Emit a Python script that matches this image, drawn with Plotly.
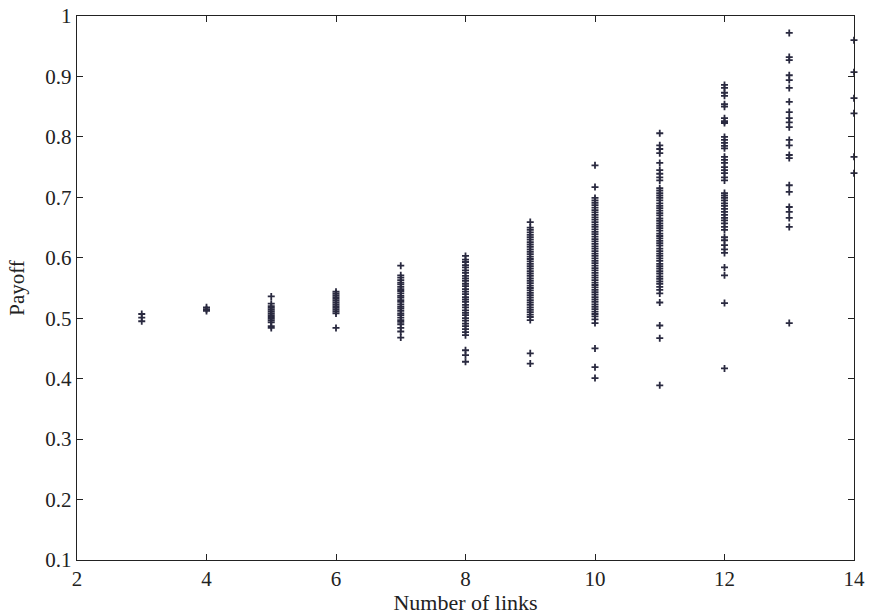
import plotly.graph_objects as go

links = [3, 4, 5, 6, 7, 8, 9, 10, 11, 12, 13, 14]

payoff_3 = [0.507, 0.501, 0.495]
payoff_4 = [0.518, 0.515, 0.512]
payoff_5 = [0.536, 0.524, 0.520, 0.517, 0.514, 0.511, 0.508, 0.505, 0.502,
            0.499, 0.496, 0.493, 0.487, 0.484]
payoff_6 = [0.544, 0.541, 0.538, 0.535, 0.532, 0.529, 0.526, 0.523, 0.520,
            0.517, 0.514, 0.511, 0.508, 0.484]
payoff_7 = [0.587, 0.571, 0.567, 0.563, 0.559, 0.556, 0.552, 0.548, 0.545,
            0.541, 0.537, 0.534, 0.530, 0.527, 0.523, 0.519, 0.516, 0.512,
            0.508, 0.505, 0.501, 0.497, 0.494, 0.490, 0.484, 0.478, 0.468]
payoff_8 = [0.603, 0.597, 0.593, 0.588, 0.584, 0.579, 0.575, 0.570, 0.566,
            0.562, 0.557, 0.553, 0.548, 0.544, 0.540, 0.535, 0.531, 0.527,
            0.522, 0.518, 0.513, 0.509, 0.505, 0.500, 0.496, 0.491, 0.487,
            0.482, 0.477, 0.472, 0.447, 0.439, 0.428]
payoff_9 = [0.659, 0.650, 0.646, 0.642, 0.638, 0.634, 0.630, 0.626, 0.622,
            0.618, 0.614, 0.610, 0.606, 0.602, 0.598, 0.594, 0.590, 0.586,
            0.582, 0.578, 0.574, 0.570, 0.566, 0.562, 0.558, 0.554, 0.550,
            0.546, 0.542, 0.538, 0.534, 0.530, 0.526, 0.522, 0.518, 0.514,
            0.510, 0.506, 0.502, 0.497, 0.442, 0.425]
payoff_10 = [0.753, 0.717, 0.699, 0.695, 0.691, 0.687, 0.683, 0.679, 0.675,
             0.671, 0.667, 0.663, 0.659, 0.655, 0.651, 0.647, 0.643, 0.639,
             0.635, 0.631, 0.627, 0.623, 0.619, 0.615, 0.611, 0.607, 0.603,
             0.599, 0.595, 0.591, 0.587, 0.583, 0.579, 0.575, 0.571, 0.567,
             0.563, 0.559, 0.555, 0.551, 0.547, 0.543, 0.539, 0.535, 0.531,
             0.527, 0.523, 0.519, 0.515, 0.511, 0.507, 0.503, 0.498, 0.492,
             0.450, 0.419, 0.401]
payoff_11 = [0.806, 0.786, 0.780, 0.773, 0.757, 0.745, 0.739, 0.733, 0.728,
             0.715, 0.711, 0.707, 0.703, 0.699, 0.695, 0.690, 0.686, 0.682,
             0.678, 0.674, 0.670, 0.665, 0.661, 0.657, 0.653, 0.649, 0.645,
             0.640, 0.636, 0.632, 0.628, 0.624, 0.620, 0.615, 0.611, 0.607,
             0.603, 0.599, 0.595, 0.590, 0.586, 0.582, 0.578, 0.574, 0.569,
             0.565, 0.561, 0.557, 0.552, 0.547, 0.541, 0.526, 0.488, 0.467,
             0.389]
payoff_12 = [0.886, 0.881, 0.873, 0.868, 0.854, 0.850, 0.831, 0.826, 0.823,
             0.800, 0.795, 0.790, 0.785, 0.781, 0.767, 0.762, 0.757, 0.750,
             0.745, 0.740, 0.733, 0.728, 0.707, 0.703, 0.699, 0.695, 0.690,
             0.686, 0.681, 0.676, 0.671, 0.666, 0.662, 0.657, 0.651, 0.646,
             0.634, 0.629, 0.621, 0.614, 0.608, 0.584, 0.571, 0.525, 0.417]
payoff_13 = [0.972, 0.932, 0.927, 0.902, 0.894, 0.881, 0.858, 0.841, 0.831,
             0.824, 0.816, 0.795, 0.786, 0.770, 0.765, 0.720, 0.709, 0.684,
             0.676, 0.666, 0.651, 0.492]
payoff_14 = [0.960, 0.907, 0.864, 0.839, 0.767, 0.740]

payoffs = [payoff_3, payoff_4, payoff_5, payoff_6, payoff_7, payoff_8,
           payoff_9, payoff_10, payoff_11, payoff_12, payoff_13, payoff_14]

x_ticks = [2, 4, 6, 8, 10, 12, 14]
y_ticks = [0.1, 0.2, 0.3, 0.4, 0.5, 0.6, 0.7, 0.8, 0.9, 1]
y_tick_labels = ["0.1", "0.2", "0.3", "0.4", "0.5", "0.6", "0.7", "0.8", "0.9", "1"]

xs, ys = [], []
for n, vals in zip(links, payoffs):
    xs += [n] * len(vals)
    ys += vals

FONT = "Liberation Serif"
INK = "#2a2a40"

fig = go.Figure()
fig.add_trace(go.Scatter(
    x=xs, y=ys, mode="markers", cliponaxis=False,
    marker=dict(symbol="cross-thin", size=5, color=INK,
                line=dict(width=1.8, color=INK)),
    showlegend=False,
))

axis_common = dict(
    showline=True, linecolor="#222", linewidth=1.4, mirror="ticks",
    ticks="inside", ticklen=6, tickcolor="#222", tickwidth=1,
    showgrid=False, zeroline=False, automargin=False,
    ticklabeloverflow="allow",
    tickfont=dict(family=FONT, size=21, color="#222"),
)

fig.update_layout(
    width=873, height=615,
    margin=dict(l=77, r=19, t=16, b=55),
    paper_bgcolor="white", plot_bgcolor="white",
    font=dict(family=FONT, color="#222"),
    xaxis=dict(range=[2, 14], tickvals=x_ticks,
               title=dict(text="Number of links", font=dict(family=FONT, size=22),
                          standoff=0),
               **axis_common),
    yaxis=dict(range=[0.1, 1], tickvals=y_ticks, ticktext=y_tick_labels,
               title=dict(text="Payoff", font=dict(family=FONT, size=21),
                          standoff=14),
               **axis_common),
)

# remove the page's default 8px body margin so the figure fills the window
fig.write_html(
    "out.html",
    config={"displayModeBar": False},
    post_script="document.body.style.margin='0';document.body.style.overflow='hidden';",
)
